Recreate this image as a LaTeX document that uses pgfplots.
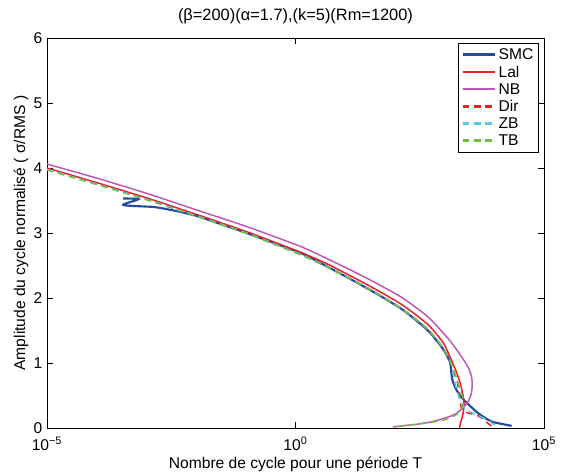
\documentclass[border=0pt]{standalone}
\usepackage{pgfplots}
\pgfplotsset{compat=1.18}
\usepackage{fontspec}
\setmainfont{Liberation Sans}
\definecolor{smcblue}{RGB}{35,75,160}
\definecolor{lalred}{RGB}{235,30,35}
\definecolor{nbmag}{RGB}{190,85,185}
\definecolor{zbcyan}{RGB}{90,200,225}
\definecolor{tbgreen}{RGB}{110,190,70}
\begin{document}
\begin{tikzpicture}[font=\fontsize{11.7}{14}\selectfont]
\begin{axis}[
  scale only axis,
  width=372.75pt, height=292.5pt,
  xmode=log,
  xmin=1e-5, xmax=1e5,
  ymin=0, ymax=6,
  xtick={1e-5,1,1e5},
  xticklabels={10\textsuperscript{−5},10\textsuperscript{0},10\textsuperscript{5}},
  xticklabel style={yshift=-3pt},
  ytick={0,1,2,3,4,5,6},
  minor x tick style={draw=none},
  minor xtick={},
  /pgf/number format/assume math mode=true,
  tick align=inside,
  tick style={black, line width=0.5pt},
  axis line style={black, line width=0.6pt},
  title={(β=200)(α=1.7),(k=5)(Rm=1200)},
  title style={yshift=0.8pt, font=\fontsize{12.3}{14}\selectfont},
  xlabel={Nombre de cycle pour une période T},
  ylabel={Amplitude du cycle normalisé ( σ/RMS )},
  xlabel style={yshift=1.5pt},
  ylabel style={yshift=-3pt},
  legend style={at={(0.990,0.987)}, anchor=north east, draw=black, line width=0.6pt,
    font=\fontsize{11.7}{14}\selectfont, row sep=-0.9pt, inner sep=2pt},
  legend cell align=left,
  legend image code/.code={\draw[#1, line width=\pgflinewidth+0.3pt] (0pt,0.3pt) -- (24pt,0.3pt);},
]
\coordinate (bl) at (rel axis cs:0,0);
\coordinate (tr) at (rel axis cs:1,1);
% SMC
\addplot[smcblue, line width=1.6pt, smooth, tension=0.4] coordinates {
(3.412e-4,3.53) (6.918e-4,3.52) (3.412e-4,3.43) (1.403e-3,3.40) (2.838e-3,3.36)
(4.550e-3,3.33) (7.278e-3,3.29) (1.167e-2,3.25) (0.1227,2.98) (1.291,2.69) (4.188,2.49)
(13.58,2.28) (44.06,2.06) (142.9,1.82) (463.4,1.50) (939.7,1.21) (1274,1.02)
(1368,0.85) (1432,0.74) (1690,0.60) (2138,0.48) (3048,0.36) (4875,0.22)
(8770,0.10) (20000,0.04) (22280,0.03)};
\addlegendentry{SMC}
% Lal
\addplot[lalred, line width=1.1pt, smooth, tension=0.4] coordinates {
(1e-5,4.00) (1.052e-4,3.77) (1.107e-3,3.53) (1.167e-2,3.27) (0.1227,3.00) (1.291,2.70) (4.188,2.53)
(13.58,2.33) (44.06,2.12) (142.9,1.89) (463.4,1.59) (939.7,1.31) (1274,1.10)
(1690,0.88) (2042,0.70) (2350,0.50) (2466,0.35) (2296,0.18) (2089,0.08) (1995,0.0)};
\addlegendentry{Lal}
% NB
\addplot[nbmag, line width=1.1pt, smooth, tension=0.4] coordinates {
(1e-5,4.06) (1.052e-4,3.84) (1.107e-3,3.60) (1.167e-2,3.34) (0.1227,3.08) (1.291,2.79) (4.188,2.61)
(13.58,2.42) (44.06,2.22) (142.9,2.00) (463.4,1.71) (1107,1.40) (1585,1.25) (2404,1.05)
(3048,0.92) (3508,0.78) (3589,0.65) (3428,0.52) (3048,0.42) (2404,0.32)
(1690,0.22) (1189,0.17) (586.1,0.10) (289.7,0.06) (127.1,0.03) (91.41,0.015)};
\addlegendentry{NB}
% Dir
\addplot[lalred, line width=1.1pt, dash pattern=on 5pt off 3.5pt, smooth, tension=0.4] coordinates {
(1e-5,3.98) (1.052e-4,3.75) (1.107e-3,3.51) (1.167e-2,3.25) (0.1227,2.98) (1.291,2.67) (4.188,2.49)
(13.58,2.29) (44.06,2.07) (142.9,1.83) (463.4,1.52) (939.7,1.23) (1337,1.0)
(1503,0.87) (1770,0.74) (1901,0.60) (2042,0.45) (2193,0.30) (2704,0.24)
(4335,0.20) (5610,0.15) (6934,0.09) (8185,0.05) (8995,0.02)};
\addlegendentry{Dir}
% ZB
\addplot[zbcyan, line width=1.1pt, dash pattern=on 5pt off 3.5pt, smooth, tension=0.4] coordinates {
(1e-5,3.98) (1.052e-4,3.75) (1.107e-3,3.51) (1.167e-2,3.25) (0.1227,2.98) (1.291,2.67) (4.188,2.49)
(13.58,2.29) (44.06,2.07) (142.9,1.83) (463.4,1.52) (939.7,1.23) (1337,1.0)
(1503,0.85) (1614,0.70) (1901,0.50) (2404,0.32) (3428,0.24) (5105,0.18)
(8185,0.10) (10350,0.04) (11376,0.02)};
\addlegendentry{ZB}
% TB
\addplot[tbgreen, line width=1.1pt, dash pattern=on 5pt off 3.5pt, smooth, tension=0.4] coordinates {
(1e-5,3.97) (1.052e-4,3.74) (1.107e-3,3.50) (1.167e-2,3.24) (0.1227,2.97) (1.291,2.66) (4.188,2.48)
(13.58,2.28) (44.06,2.06) (142.9,1.82) (463.4,1.51) (939.7,1.22) (1337,1.0)
(1690,0.80) (1995,0.62) (2296,0.48) (2404,0.38) (2138,0.28) (1690,0.20)
(939.7,0.12) (463.4,0.08) (228.6,0.05) (100.5,0.02)};
\addlegendentry{TB}
\end{axis}
\pgfresetboundingbox
\path ([shift={(-35.25pt,-33.75pt)}]bl) rectangle ([shift={(12.75pt,28.5pt)}]tr);
\end{tikzpicture}
\end{document}
